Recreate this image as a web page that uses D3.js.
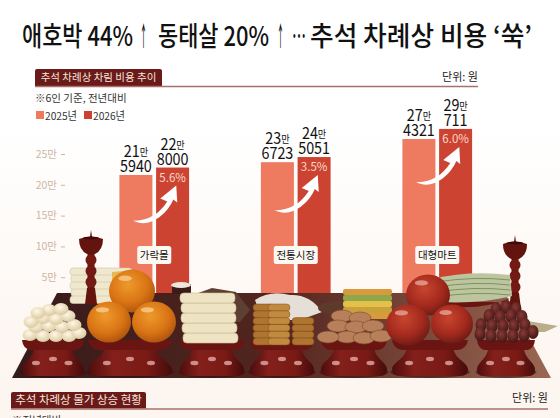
<!DOCTYPE html>
<html>
<head>
<meta charset="utf-8">
<script src="https://cdn.jsdelivr.net/npm/d3@7"></script>
<style>
  html, body { margin: 0; padding: 0; background: #fff; }
  svg { display: block; }
  text { font-family: "Noto Sans CJK KR", "Noto Sans", sans-serif; }
</style>
</head>
<body>
<div id="chart"></div>
<script>
// chart data
const markets = ["가락몰", "전통시장", "대형마트"];
const years = ["2025년", "2026년"];
const cost2025 = [215940, 236723, 274321];
const cost2026 = [228000, 245051, 290711];
const changePct = ["5.6%", "3.5%", "6.0%"];
const yTicks = [50000, 100000, 150000, 200000, 250000];

const titleParts = ["애호박 44%", "↑", "동태살 20%", "↑", "…", "추석 차례상 비용 ‘쑥’"];
const section1 = "추석 차례상 차림 비용 추이";
const section2 = "추석 차례상 물가 상승 현황";
const unitLabel = "단위: 원";
const noteLabel = "※6인 기준, 전년대비";
const note2Label = "※전년대비";

const color2025 = "#ee7b60";
const color2026 = "#cc4331";
const headerRed = "#6b1a1a";

const width = 560, height = 418;
const svg = d3.select("#chart").append("svg").attr("width", width).attr("height", height);
const defs = svg.append("defs");

function linear(id, stops, x2, y2) {
    const g = defs.append("linearGradient").attr("id", id)
        .attr("x1", 0).attr("y1", 0).attr("x2", x2).attr("y2", y2);
    stops.forEach(s => g.append("stop").attr("offset", s[0]).attr("stop-color", s[1]));
}
function radial(id, stops) {
    const g = defs.append("radialGradient").attr("id", id)
        .attr("cx", 0.42).attr("cy", 0.35).attr("r", 0.7);
    stops.forEach(s => g.append("stop").attr("offset", s[0]).attr("stop-color", s[1]));
}
linear("bg", [[0, "#ffffff"], [0.3, "#ffffff"], [0.85, "#fdf6f1"], [1, "#fdf5ef"]], 0, 1);
linear("tableTop", [[0, "#351a1a"], [0.5, "#54261f"], [1, "#9a6753"]], 1, 0);
linear("standFill", [[0, "#4f0d0d"], [0.3, "#84201b"], [0.7, "#7a1a15"], [1, "#430c0b"]], 1, 0);
radial("persimmon", [[0, "#ee9a2c"], [0.6, "#d97414"], [1, "#a9500f"]]);
radial("apple", [[0, "#c8452f"], [0.6, "#a3291d"], [1, "#641a14"]]);
radial("ball", [[0, "#fff8e6"], [1, "#d8c79c"]]);
radial("jujube", [[0, "#8a3a35"], [1, "#3c1414"]]);

svg.append("rect").attr("width", width).attr("height", height).attr("fill", "url(#bg)");

// title, split up because the arrows sit tight in the original
const titleX = [22, 140, 158, 277, 292, 310];
const titleW = [111, 7, 111, 7, 14, 222];
svg.append("g").selectAll("text").data(titleParts).join("text")
    .attr("x", (d, i) => titleX[i]).attr("y", 46)
    .attr("textLength", (d, i) => titleW[i]).attr("lengthAdjust", "spacingAndGlyphs")
    .attr("font-size", 27).attr("font-weight", 500).attr("fill", "#111")
    .text(d => d);

function sectionHead(label, x, y, w, h, lineEnd, unitY, size) {
    svg.append("path")
        .attr("d", `M${x},${y + h}V${y + 2}q0,-2 2,-2H${x + w - 2}q2,0 2,2V${y + h}Z`)
        .attr("fill", headerRed);
    svg.append("text").attr("x", x + w / 2).attr("y", y + h / 2 + size * 0.36)
        .attr("text-anchor", "middle").attr("font-size", size).attr("fill", "#f6e6dc")
        .text(label);
    svg.append("line").attr("x1", x).attr("x2", lineEnd).attr("y1", y + h + 0.5).attr("y2", y + h + 0.5)
        .attr("stroke", "#a96f6d").attr("stroke-width", 1.5);
    svg.append("text").attr("x", lineEnd).attr("y", unitY).attr("text-anchor", "end")
        .attr("font-size", 11).attr("fill", "#222").text(unitLabel);
}
sectionHead(section1, 35, 69, 127, 17, 478, 81, 10.5);

svg.append("text").attr("x", 35).attr("y", 102).attr("font-size", 10.5).attr("fill", "#333").text(noteLabel);

// legend
const legend = svg.append("g").selectAll("g").data(years).join("g")
    .attr("transform", (d, i) => `translate(${36 + i * 48},111)`);
legend.append("rect").attr("width", 8).attr("height", 8)
    .attr("fill", (d, i) => i ? color2026 : color2025);
legend.append("text").attr("x", 9).attr("y", 9).attr("font-size", 11).attr("fill", "#333")
    .attr("textLength", 32).attr("lengthAdjust", "spacingAndGlyphs").text(d => d);

// scales
const y = d3.scaleLinear().domain([0, 250000]).range([308, 154]);
const x0 = d3.scaleBand().domain(markets).range([83.5, 508]);
const barW = 33, barGap = 3.7;

// axis
const axis = svg.append("g").attr("transform", "translate(65,0)")
    .call(d3.axisLeft(y).tickValues(yTicks).tickSize(4).tickPadding(4).tickFormat(d => (d / 10000) + "만"));
axis.select(".domain").remove();
axis.selectAll("line").attr("stroke", "#cdb5a4");
axis.selectAll("text").attr("fill", "#cdb5a4").attr("font-size", 10.5).style("font-family", '"Noto Sans CJK KR"');

// bars
const groups = svg.append("g").selectAll("g").data(markets).join("g")
    .attr("transform", d => `translate(${x0(d) + x0.bandwidth() / 2},0)`);

groups.append("rect").attr("x", -barW - barGap / 2).attr("width", barW)
    .attr("y", (d, i) => y(cost2025[i])).attr("height", (d, i) => y(0) - y(cost2025[i]))
    .attr("fill", color2025);
groups.append("rect").attr("x", barGap / 2).attr("width", barW)
    .attr("y", (d, i) => y(cost2026[i])).attr("height", (d, i) => y(0) - y(cost2026[i]))
    .attr("fill", color2026);

// the digits are condensed in the original, scale(.87,1) gets close
function valueLabel(sel, xc, values) {
    const t = sel.append("g");
    t.append("text").attr("transform", (d, i) => `translate(${xc},${y(values[i]) - 3}) scale(.87,1)`)
        .attr("text-anchor", "middle").attr("font-size", 16.5).attr("fill", "#111")
        .text((d, i) => values[i] % 10000);
    const top = t.append("text").attr("transform", (d, i) => `translate(${xc},${y(values[i]) - 18}) scale(.87,1)`)
        .attr("text-anchor", "middle").attr("font-size", 16.5).attr("fill", "#111");
    top.append("tspan").text((d, i) => Math.floor(values[i] / 10000));
    top.append("tspan").attr("font-size", 10.5).attr("dy", -1).text("만");
}
valueLabel(groups, -barW / 2 - barGap / 2, cost2025);
valueLabel(groups, barW / 2 + barGap / 2, cost2026);

// change in pct
groups.append("text").attr("x", barW / 2 + barGap / 2).attr("y", (d, i) => y(cost2026[i]) + 14)
    .attr("text-anchor", "middle").attr("font-size", 11.5).attr("fill", "#f9d9cc")
    .text((d, i) => changePct[i]);

// white swoosh arrow, tip is anchored a bit under the 2026 bar top
groups.append("path")
    .attr("transform", (d, i) => `translate(22,${y(cost2026[i]) + 18})`)
    .attr("d", "M-43,35C-30,36 -17,29 -9,16L-16,13L0,0L1,17L-3,14C-9,29 -28,44 -43,35Z")
    .attr("fill", "#fff");

// ---- table illustration, decoration only ----
const food = svg.append("g");

food.append("polygon").attr("points", "12,378 57,293 505,293 551,378").attr("fill", "url(#tableTop)");

function stand(cx, hw) {
    const g = food.append("g").attr("transform", `translate(${cx},0)`);
    g.append("ellipse").attr("cy", 372).attr("rx", hw * 1.05).attr("ry", 6).attr("fill", "#2a0d0c").attr("opacity", 0.5);
    g.append("path")
        .attr("d", `M${-hw * 0.62},348C${-hw * 0.62},358 ${-hw * 0.98},362 ${-hw},369Q${-hw},376 ${-hw * 0.8},376H${hw * 0.8}Q${hw},376 ${hw},369C${hw * 0.98},362 ${hw * 0.62},358 ${hw * 0.62},348Z`)
        .attr("fill", "url(#standFill)");
    g.append("path").attr("d", `M${-hw},340H${hw}Q${hw * 0.97},348 ${hw * 0.75},350H${-hw * 0.75}Q${-hw * 0.97},348 ${-hw},340Z`)
        .attr("fill", "#6b1512");
    [-0.55, 0, 0.5].forEach((k, i) => {
        g.append("ellipse").attr("cx", k * hw).attr("cy", i === 1 ? 359 : 363)
            .attr("rx", 4).attr("ry", 2.2).attr("fill", "#e9b4b0").attr("opacity", 0.75);
    });
}

function candle(cx, top) {
    const g = food.append("g").attr("transform", `translate(${cx},${top})`).attr("fill", "#64140f");
    g.append("path").attr("d", "M-1.2,0L0,-8L1.2,0Z");
    g.append("path").attr("d", "M-12,1Q0,-4 12,1Q12,12 4,16H-4Q-12,12 -12,1Z");
    g.append("ellipse").attr("cy", 0).attr("rx", 8).attr("ry", 1.5).attr("fill", "#3f0c0a");
    g.append("rect").attr("x", -3.5).attr("y", 15).attr("width", 7).attr("height", 50);
    [22, 33, 44].forEach(dy => g.append("ellipse").attr("cy", dy).attr("rx", 5.5).attr("ry", 5.5).attr("fill", "#741a14"));
    g.append("path").attr("d", "M-4,50H4L6,66H-6Z");
}

// back row
function slabs(x, w, yTop, n, step, fill, line) {
    d3.range(n).forEach(i => {
        food.append("rect").attr("x", x + (i % 2)).attr("y", yTop + i * step).attr("width", w - (i % 2) * 2)
            .attr("height", step + 0.5).attr("rx", 3).attr("fill", fill).attr("stroke", line).attr("stroke-width", 0.6);
    });
}
slabs(70, 62, 268, 5, 7, "#efe8cf", "#cfc4a0");
food.append("path").attr("d", "M112,272L135,270L150,278L130,286L112,284Z").attr("fill", "#e6b957");
candle(91, 238);
candle(515, 243);

// far dishes
food.append("rect").attr("x", 172).attr("y", 284).attr("width", 19).attr("height", 10).attr("fill", "#3b1b18");
food.append("ellipse").attr("cx", 181).attr("cy", 285).attr("rx", 10).attr("ry", 3).attr("fill", "#eee6da");
food.append("path").attr("d", "M190,296L212,288L236,292L250,310L240,322H185Z").attr("fill", "#5d3f33");
food.append("path").attr("d", "M255,300Q270,290 290,295Q310,294 322,312L300,320H262Z").attr("fill", "#e6dfd8");
food.append("ellipse").attr("cx", 338).attr("cy", 308).attr("rx", 20).attr("ry", 7).attr("fill", "#5e3a2c");

// jeon stack behind stand 5
[[289, "#d89a3a"], [295, "#8fa64a"], [301, "#e4c04a"], [307, "#c8a03c"], [313, "#d89a3a"]].forEach(r => {
    food.append("rect").attr("x", 343).attr("y", r[0]).attr("width", 49).attr("height", 6).attr("rx", 2).attr("fill", r[1]);
});

// green pancakes behind apples
food.append("path").attr("d", "M438,305Q480,312 510,298L505,302H440Z").attr("fill", "#6b1512");
food.append("path").attr("d", "M432,279Q470,270 510,275L512,296Q480,304 440,302Z").attr("fill", "#bdc59f");
[282, 287, 292, 297].forEach(v => food.append("path").attr("d", `M436,${v}Q475,${v - 6} 510,${v - 2}`)
    .attr("fill", "none").attr("stroke", "#7d9263").attr("stroke-width", 1));
food.append("path").attr("d", "M528,321L558,326L545,332L530,332Z").attr("fill", "#b9ad8c");

// stands
[[53, 31], [130, 42], [212, 32], [282, 32], [354, 33], [430, 38], [506, 29]].forEach(s => stand(s[0], s[1]));

// songpyeon pile
[[30, 335], [43, 336], [56, 336], [69, 336], [79, 333], [36, 327], [49, 326], [62, 327], [74, 325],
 [31, 322], [43, 318], [56, 319], [68, 316], [49, 310], [61, 309], [38, 313]].forEach(p => {
    food.append("ellipse").attr("cx", p[0]).attr("cy", p[1]).attr("rx", 7.5).attr("ry", 6).attr("fill", "url(#ball)");
});

// white rice cake stack
[[183, 333], [182, 323], [181, 313], [181, 303], [180, 293]].forEach(s => {
    food.append("rect").attr("x", s[0]).attr("y", s[1]).attr("width", 55).attr("height", 10).attr("rx", 4)
        .attr("fill", "#eee3c2").attr("stroke", "#c9bd93").attr("stroke-width", 0.6);
});

// yakgwa stacks
d3.range(6).forEach(i => {
    [[253, 21], [268, 22], [292, 22]].forEach((c, k) => {
        if (k === 2 && i < 2) return;
        food.append("rect").attr("x", c[0]).attr("y", 304 + i * 6.8).attr("width", c[1]).attr("height", 7).attr("rx", 3.5)
            .attr("fill", k === 1 ? "#c28a3e" : "#ae7430").attr("stroke", "#7c4c1b").attr("stroke-width", 0.5);
    });
});

// brown rings
[[342, 316], [360, 318], [338, 326], [356, 327], [373, 326], [347, 337], [364, 338], [328, 337], [381, 336]].forEach(p => {
    food.append("ellipse").attr("cx", p[0]).attr("cy", p[1]).attr("rx", 11).attr("ry", 6)
        .attr("fill", "#b8805a").attr("stroke", "#7a4a2e").attr("stroke-width", 0.6);
});

// jujube pile
[[496, 309], [506, 307], [516, 309], [489, 316], [500, 317], [511, 316], [522, 317], [481, 325], [492, 326], [503, 326],
 [514, 326], [525, 325], [533, 332], [480, 334], [491, 336], [502, 336], [513, 336], [524, 335]].forEach(p => {
    food.append("ellipse").attr("cx", p[0]).attr("cy", p[1]).attr("rx", 5.5).attr("ry", 7).attr("fill", "url(#jujube)");
});

function fruit(cx, cy, r, fill, shine) {
    food.append("ellipse").attr("cx", cx).attr("cy", cy).attr("rx", r).attr("ry", r * 0.93).attr("fill", fill);
    food.append("ellipse").attr("cx", cx - r * 0.3).attr("cy", cy - r * 0.55).attr("rx", r * 0.3).attr("ry", r * 0.12).attr("fill", shine).attr("opacity", 0.6);
}
fruit(132, 291, 23, "url(#persimmon)", "#fde2b0");
fruit(109, 322, 22, "url(#persimmon)", "#fde2b0");
fruit(154, 322, 22, "url(#persimmon)", "#fde2b0");
fruit(428, 295, 22, "url(#apple)", "#f5c8bc");
fruit(408, 325, 22, "url(#apple)", "#f5c8bc");
fruit(452, 324, 21, "url(#apple)", "#f5c8bc");

// market name labels sit above the food
const tags = svg.append("g").selectAll("g").data(markets).join("g")
    .attr("transform", d => `translate(${x0(d) + x0.bandwidth() / 2},255)`);
tags.append("rect").attr("x", (d, i) => i ? -22 : -17).attr("width", (d, i) => i ? 44 : 34)
    .attr("y", -9).attr("height", 18).attr("rx", 2.5).attr("fill", "#fdf8f2");
tags.append("text").attr("text-anchor", "middle").attr("y", 4).attr("font-size", 10.5).attr("fill", "#111").text(d => d);

// second section, cut off by the frame
sectionHead(section2, 11, 392, 135, 16.5, 548, 402, 11.5);
svg.append("text").attr("x", 12).attr("y", 424).attr("font-size", 10.5).attr("fill", "#333").text(note2Label);
</script>
</body>
</html>
